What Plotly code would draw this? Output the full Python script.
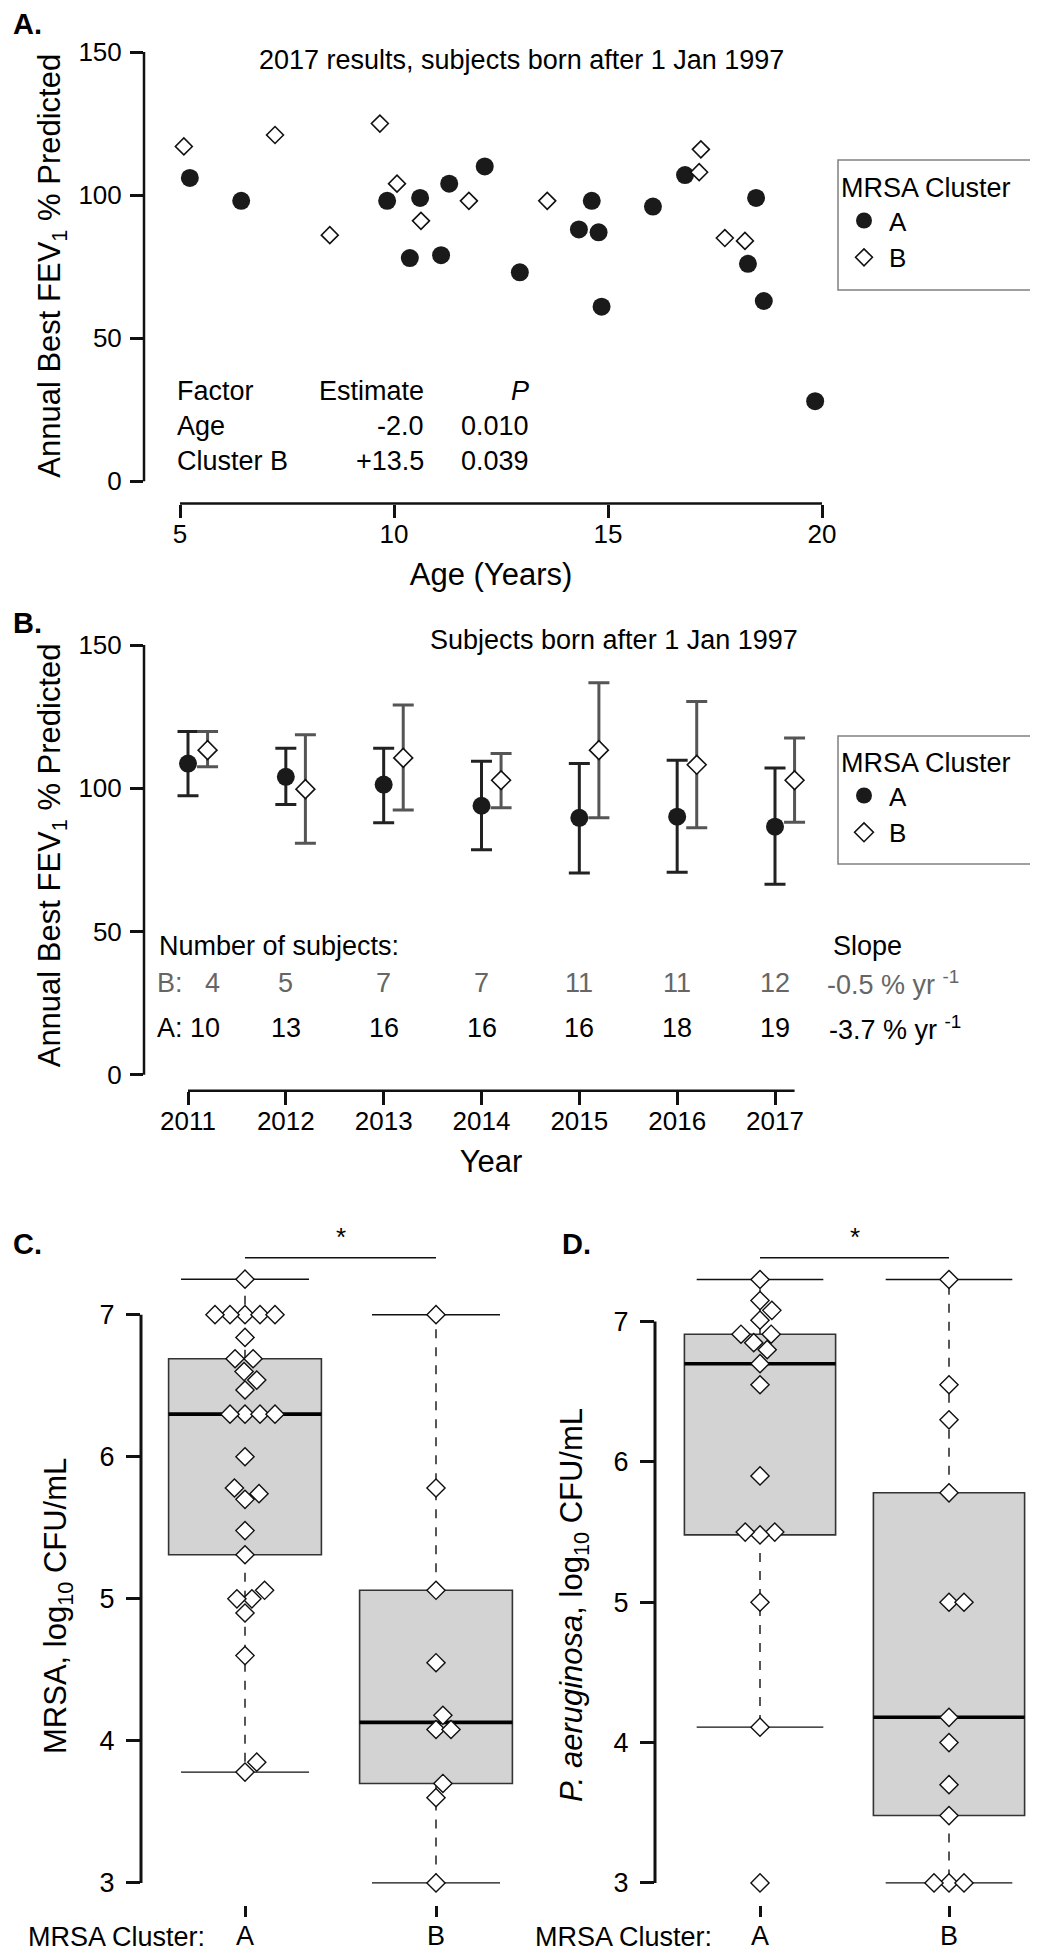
import math
import plotly.graph_objects as go

W, H = 1038, 1950
FONT = "Liberation Sans, Arial, Helvetica, sans-serif"
INK = "#111111"
GREY_B = "#555555"
TEXT_B = "#666666"

# ---------------- Panel A data: 2017 results ----------------
age_A = [5.23, 6.43, 9.84, 10.61, 10.37, 11.10, 11.29, 12.12, 12.94, 14.62, 14.32, 14.78,
         14.85, 16.05, 16.80, 18.46, 18.27, 18.64, 19.84]
fev_A = [106, 98, 98, 99, 78, 79, 104, 110, 73, 98, 88, 87, 61, 96, 107, 99, 76, 63, 28]
age_B = [5.09, 7.22, 8.50, 9.67, 10.07, 10.63, 11.75, 13.58, 17.17, 17.13, 17.73, 18.20]
fev_B = [117, 121, 86, 125, 104, 91, 98, 98, 116, 108, 85, 84]
age_ticks = [5, 10, 15, 20]
fev_ticks = [0, 50, 100, 150]
factor_names = ["Age", "Cluster B"]
factor_estimates = ["-2.0", "+13.5"]
factor_p = ["0.010", "0.039"]

# ---------------- Panel B data: yearly means with error bars ----------------
years = [2011, 2012, 2013, 2014, 2015, 2016, 2017]
mean_A = [108.6, 104.0, 101.3, 93.9, 89.7, 90.1, 86.6]
upper_A = [119.8, 114.0, 114.0, 109.4, 108.6, 109.8, 107.1]
lower_A = [97.4, 94.3, 88.0, 78.5, 70.4, 70.7, 66.5]
mean_B = [113.3, 99.7, 110.6, 102.8, 113.3, 108.2, 102.8]
upper_B = [119.8, 118.7, 129.1, 112.1, 136.8, 130.3, 117.5]
lower_B = [107.5, 80.8, 92.4, 93.2, 89.7, 86.2, 88.1]
n_subjects_A = [10, 13, 16, 16, 16, 18, 19]
n_subjects_B = [4, 5, 7, 7, 11, 11, 12]
slope_A = "-3.7"
slope_B = "-0.5"
B_OFFSET = 0.2  # cluster B plotted just right of each year

# ---------------- Panel C data: MRSA log10 CFU/mL ----------------
mrsa_A = [7.25, 7.0, 7.0, 7.0, 7.0, 7.0, 6.84, 6.69, 6.69, 6.60, 6.54, 6.47, 6.30, 6.30,
          6.30, 6.30, 6.0, 5.78, 5.74, 5.70, 5.48, 5.31, 5.06, 5.0, 5.0, 4.90, 4.60, 3.85, 3.78]
mrsa_B = [7.0, 5.78, 5.06, 4.55, 4.18, 4.08, 4.08, 3.70, 3.60, 3.0]
# box stats: lower whisker, Q1, median, Q3, upper whisker
mrsa_box_A = [3.78, 5.31, 6.30, 6.69, 7.25]
mrsa_box_B = [3.0, 3.70, 4.13, 5.06, 7.0]

# ---------------- Panel D data: P. aeruginosa log10 CFU/mL ----------------
pa_A = [7.30, 7.15, 7.08, 7.01, 6.91, 6.91, 6.85, 6.80, 6.70, 6.55, 5.90, 5.50, 5.48, 5.50,
        5.0, 4.11, 3.0]
pa_B = [7.30, 6.55, 6.30, 5.78, 5.0, 5.0, 4.18, 4.0, 3.70, 3.48, 3.0, 3.0, 3.0]
pa_box_A = [4.11, 5.48, 6.70, 6.91, 7.30]
pa_box_B = [3.0, 3.48, 4.18, 5.78, 7.30]
cluster_pos = [1, 2]
cluster_names = ["A", "B"]
log_ticks = [3, 4, 5, 6, 7]


# ---------------- layout helpers (pixel layout of the four panels) ----------------
def px_x(x):
    return x / W


def px_y(y):
    return 1 - y / H


def span(v0, p0, v1, p1, pa, pb):
    k = (v1 - v0) / (p1 - p0)
    return [v0 + (pa - p0) * k, v0 + (pb - p0) * k]


GEO = {
    "A": dict(l=136, r=830, t=20, b=495.5, xr=(5, 172, 20, 814), yr=(0, 473.3, 150, 44)),
    "B": dict(l=136, r=830, t=612, b=1082.7, xr=(2011, 180, 2017, 767), yr=(0, 1066.8, 150, 637)),
    "C": dict(l=133, r=515, t=1215, b=1897, xr=(1, 237, 2, 428), yr=(3, 1874.9, 7, 1306.7)),
    "D": dict(l=647, r=1030, t=1215, b=1897, xr=(1, 752, 2, 941), yr=(3, 1874.9, 7, 1313.6)),
}
AX = {"A": ("x", "y"), "B": ("x2", "y2"), "C": ("x3", "y3"), "D": ("x4", "y4")}


def scales(p):
    g = GEO[p]
    v0, p0, v1, p1 = g["xr"]
    xs = abs((p1 - p0) / (v1 - v0))
    v0, p0, v1, p1 = g["yr"]
    ys = abs((p1 - p0) / (v1 - v0))
    return xs, ys


def swarm(values, xpx, ypx, xsize=15.0, ysize=16.0):
    """Beeswarm-style horizontal offsets (in data units)."""
    order = sorted(range(len(values)), key=lambda i: values[i])
    placed = []
    offs = [0.0] * len(values)
    for i in order:
        yv = values[i] * ypx
        forb = []
        for (py, pxp) in placed:
            dy = abs(yv - py)
            if dy < ysize:
                req = xsize * math.sqrt(1 - (dy / ysize) ** 2)
                forb.append((pxp - req, pxp + req))
        cands = [0.0] + [a for a, b in forb] + [b for a, b in forb]
        valid = [c for c in cands if all(not (a + 1e-6 < c < b - 1e-6) for a, b in forb)]
        best = min(valid, key=lambda c: (abs(c), -c))
        offs[i] = best / xpx
        placed.append((yv, best))
    return offs


fig = go.Figure()

# ---------------- Panel A traces ----------------
fig.add_trace(go.Scatter(
    x=age_A, y=fev_A, mode="markers", name="A", legend="legend", xaxis="x", yaxis="y",
    marker=dict(symbol="circle", size=18, color="#1a1a1a", line=dict(width=0)),
    cliponaxis=False))
fig.add_trace(go.Scatter(
    x=age_B, y=fev_B, mode="markers", name="B", legend="legend", xaxis="x", yaxis="y",
    marker=dict(symbol="diamond", size=13, color="white", line=dict(width=1.6, color=INK)),
    cliponaxis=False))

# ---------------- Panel B traces ----------------
fig.add_trace(go.Scatter(
    x=years, y=mean_A, mode="markers", name="A", legend="legend2", xaxis="x2", yaxis="y2",
    error_y=dict(type="data", symmetric=False,
                 array=[u - m for u, m in zip(upper_A, mean_A)],
                 arrayminus=[m - l for m, l in zip(mean_A, lower_A)],
                 color="#222222", thickness=3, width=10.5),
    marker=dict(symbol="circle", size=18, color="#1a1a1a", line=dict(width=0)),
    cliponaxis=False))
fig.add_trace(go.Scatter(
    x=[yr + B_OFFSET for yr in years], y=mean_B, mode="markers", name="B", legend="legend2",
    xaxis="x2", yaxis="y2",
    error_y=dict(type="data", symmetric=False,
                 array=[u - m for u, m in zip(upper_B, mean_B)],
                 arrayminus=[m - l for m, l in zip(mean_B, lower_B)],
                 color=GREY_B, thickness=3, width=10.5),
    marker=dict(symbol="diamond", size=14.5, color="white", line=dict(width=1.6, color=INK)),
    cliponaxis=False))


# ---------------- Panels C & D: box + swarm ----------------
def add_boxswarm(panel, groups):
    xa, ya = AX[panel]
    xpx, ypx = scales(panel)
    for pos, pts, st in groups:
        lo, q1, med, q3, hi = st
        fig.add_trace(go.Box(
            x=[pos], q1=[q1], median=[med], q3=[q3], lowerfence=[q1], upperfence=[q3],
            width=0.8, fillcolor="#d3d3d3", line=dict(color="#333333", width=1.6),
            boxpoints=False, showlegend=False, hoverinfo="skip", xaxis=xa, yaxis=ya))
        fig.add_trace(go.Scatter(
            x=[pos, pos, None, pos, pos], y=[q3, hi, None, q1, lo], mode="lines",
            line=dict(color=INK, width=1.4, dash="dash"), showlegend=False,
            hoverinfo="skip", xaxis=xa, yaxis=ya, cliponaxis=False))
        fig.add_trace(go.Scatter(
            x=[pos - 0.335, pos + 0.335, None, pos - 0.335, pos + 0.335],
            y=[hi, hi, None, lo, lo], mode="lines", line=dict(color=INK, width=1.4),
            showlegend=False, hoverinfo="skip", xaxis=xa, yaxis=ya, cliponaxis=False))
        fig.add_trace(go.Scatter(
            x=[pos - 0.4, pos + 0.4], y=[med, med], mode="lines",
            line=dict(color="#000000", width=3.6), showlegend=False,
            hoverinfo="skip", xaxis=xa, yaxis=ya))
        offs = swarm(pts, xpx, ypx)
        fig.add_trace(go.Scatter(
            x=[pos + o for o in offs], y=pts, mode="markers", showlegend=False,
            marker=dict(symbol="diamond", size=14, color="white",
                        line=dict(width=1.4, color=INK)),
            cliponaxis=False, xaxis=xa, yaxis=ya))


add_boxswarm("C", [(cluster_pos[0], mrsa_A, mrsa_box_A), (cluster_pos[1], mrsa_B, mrsa_box_B)])
add_boxswarm("D", [(cluster_pos[0], pa_A, pa_box_A), (cluster_pos[1], pa_B, pa_box_B)])

# ---------------- axes ----------------
layout = {}
for p, (xa, ya) in AX.items():
    g = GEO[p]
    xname = "xaxis" if xa == "x" else "xaxis" + xa[1:]
    yname = "yaxis" if ya == "y" else "yaxis" + ya[1:]
    common = dict(showgrid=False, zeroline=False, showline=False, ticks="outside",
                  tickwidth=2.5, tickcolor=INK, ticklen=13,
                  tickfont=dict(family=FONT, size=26, color="#000"))
    layout[xname] = dict(common, domain=[px_x(g["l"]), px_x(g["r"])],
                         range=span(*g["xr"], g["l"], g["r"]), anchor=ya)
    layout[yname] = dict(common, domain=[px_y(g["b"]), px_y(g["t"])],
                         range=span(*g["yr"], g["b"], g["t"]), anchor=xa)

TFONT = dict(family=FONT, size=31, color="#000")
layout["xaxis"].update(tickvals=age_ticks, ticklabelstandoff=-6,
                       title=dict(text="Age (Years)", font=TFONT, standoff=15))
layout["yaxis"].update(tickvals=fev_ticks, ticklabelstandoff=3,
                       title=dict(text="Annual Best FEV<sub>1</sub> % Predicted", font=TFONT, standoff=8))
layout["xaxis2"].update(tickvals=years, ticklabelstandoff=-6,
                        title=dict(text="Year", font=TFONT, standoff=15))
layout["yaxis2"].update(tickvals=fev_ticks, ticklabelstandoff=3,
                        title=dict(text="Annual Best FEV<sub>1</sub> % Predicted", font=TFONT, standoff=8))
for xn, yn in [("xaxis3", "yaxis3"), ("xaxis4", "yaxis4")]:
    layout[xn].update(tickvals=cluster_pos, ticktext=cluster_names, ticklen=11,
                      ticklabelstandoff=-4, tickfont=dict(family=FONT, size=27, color="#000"))
    layout[yn].update(tickvals=log_ticks, ticklen=14, ticklabelstandoff=6,
                      tickfont=dict(family=FONT, size=27, color="#000"))

# ---------------- axis lines (R-style detached) ----------------
shapes = []
LW = 2.5
shapes.append(dict(type="line", xref="x domain", yref="y", x0=0, x1=0, y0=fev_ticks[0], y1=fev_ticks[-1],
                   line=dict(color=INK, width=LW)))
shapes.append(dict(type="line", xref="x", yref="y domain", x0=age_ticks[0], x1=age_ticks[-1], y0=0, y1=0,
                   line=dict(color=INK, width=LW)))
shapes.append(dict(type="line", xref="x2 domain", yref="y2", x0=0, x1=0, y0=fev_ticks[0], y1=fev_ticks[-1],
                   line=dict(color=INK, width=LW)))
shapes.append(dict(type="line", xref="x2", yref="y2 domain", x0=years[0], x1=years[-1] + B_OFFSET, y0=0, y1=0,
                   line=dict(color=INK, width=LW)))
shapes.append(dict(type="line", xref="x3 domain", yref="y3", x0=0, x1=0, y0=log_ticks[0], y1=log_ticks[-1],
                   line=dict(color=INK, width=3)))
shapes.append(dict(type="line", xref="x4 domain", yref="y4", x0=0, x1=0, y0=log_ticks[0], y1=log_ticks[-1],
                   line=dict(color=INK, width=3)))
# significance bars
for xr in ["x3", "x4"]:
    shapes.append(dict(type="line", xref=xr, yref="paper", x0=cluster_pos[0], x1=cluster_pos[1],
                       y0=px_y(1249.7), y1=px_y(1249.7), line=dict(color=INK, width=1.4)))
# legend frames
for top, bot in [(152, 282), (728, 856)]:
    shapes.append(dict(type="rect", xref="paper", yref="paper", x0=px_x(830), x1=px_x(1034),
                       y0=px_y(bot), y1=px_y(top), line=dict(color="#808080", width=1.5),
                       fillcolor="rgba(0,0,0,0)"))

# ---------------- text annotations ----------------
ann = []


def text(t, x, y, xanchor="center", size=27, color="#000", bold=False, xref="paper", yref="paper",
         yanchor="middle", angle=0):
    ann.append(dict(text=("<b>%s</b>" % t) if bold else t, x=px_x(x) if xref == "paper" else x,
                    y=px_y(y) if yref == "paper" else y, xref=xref, yref=yref,
                    xanchor=xanchor, yanchor=yanchor, showarrow=False, textangle=angle,
                    font=dict(family=FONT, size=size, color=color)))


# panel letters
text("A.", 3, 16, "left", 29, bold=True)
text("B.", 3, 615, "left", 29, bold=True)
text("C.", 3, 1236, "left", 29, bold=True)
text("D.", 552, 1236, "left", 29, bold=True)

# Panel A annotations
text("2017 results, subjects born after 1 Jan 1997", 513, 52)
text("Factor", 167, 383, "left")
text("Estimate", 418, 383, "right")
text("<i>P</i>", 523, 383, "right")
for i, (nm, est, pv) in enumerate(zip(factor_names, factor_estimates, factor_p)):
    yy = 418 + 35.5 * i
    text(nm, 167, yy, "left")
    text(est, 418, yy, "right")
    text(pv, 523, yy, "right")

# Panel B annotations
text("Subjects born after 1 Jan 1997", 606, 632)
text("Number of subjects:", 149, 938, "left")
text("Slope", 823, 938, "left")
for i, (yr, nb, na) in enumerate(zip(years, n_subjects_B, n_subjects_A)):
    lb = str(nb) if i else "B:" + " " * (1 + 2 * (2 - len(str(nb)))) + str(nb)
    la = str(na) if i else "A:" + " " * (1 + 2 * (2 - len(str(na)))) + str(na)
    text(lb, yr, 975, "center", 27, TEXT_B, xref="x2")
    text(la, yr, 1020, "center", 27, "#000", xref="x2")
text(slope_B + " % yr <sup>-1</sup>", 817, 975, "left", 27, TEXT_B)
text(slope_A + " % yr <sup>-1</sup>", 819, 1020, "left", 27, "#000")

# Panels C / D annotations
for xr, lx in [("x3", 18), ("x4", 525)]:
    text("*", (cluster_pos[0] + cluster_pos[1]) / 2, 1229, "center", 26, xref=xr)
    text("MRSA Cluster:", lx, 1929, "left", 27)
text("MRSA, log<sub>10</sub> CFU/mL", 50, 1598, "center", 31, angle=-90)
text("<i>P. aeruginosa</i>, log<sub>10</sub> CFU/mL", 566, 1597, "center", 31, angle=-90)

legend_common = dict(xanchor="left", yanchor="top", bgcolor="rgba(0,0,0,0)",
                     borderwidth=0, font=dict(family=FONT, size=26, color="#000"),
                     title=dict(text="MRSA Cluster", font=dict(family=FONT, size=27, color="#000")),
                     itemwidth=40, tracegroupgap=0)

fig.update_layout(
    width=W, height=H, autosize=False, margin=dict(l=0, r=0, t=0, b=0),
    paper_bgcolor="white", plot_bgcolor="white", font=dict(family=FONT, color="#000"),
    shapes=shapes, annotations=ann, showlegend=True,
    legend=dict(legend_common, x=px_x(831), y=px_y(154)),
    legend2=dict(legend_common, x=px_x(831), y=px_y(729)),
    **layout)

fig.write_html("out.html")
